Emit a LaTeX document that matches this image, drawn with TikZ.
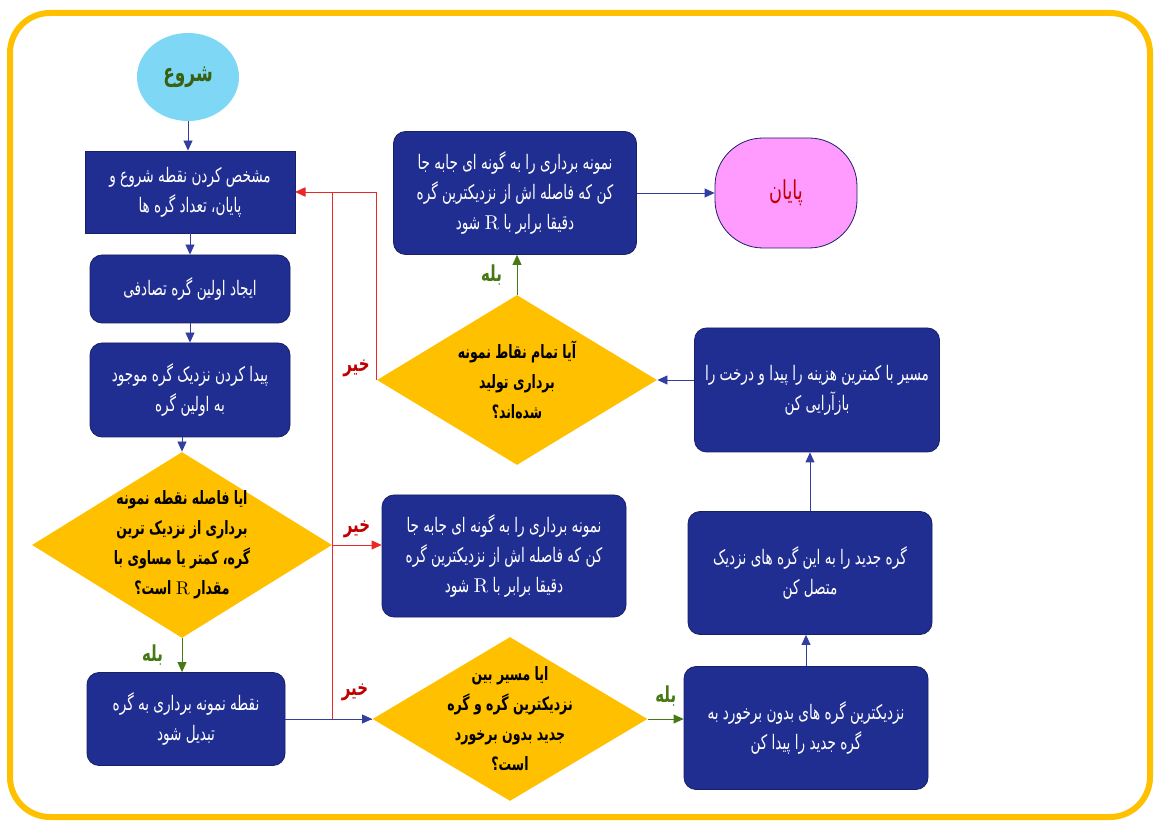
\documentclass[tikz,border=0pt]{standalone}
\usepackage{fontspec}
\usepackage{xcolor}
\usepackage{tikz}
\usetikzlibrary{shapes.geometric,arrows.meta}
\TeXXeTstate=1
\newfontfamily\fa[Script=Arabic,FakeStretch=0.68]{DejaVu Sans}
\definecolor{boxblue}{RGB}{32,45,145}
\definecolor{boxedge}{RGB}{25,32,100}
\definecolor{decyellow}{RGB}{255,192,0}
\definecolor{flowblue}{RGB}{50,62,160}
\definecolor{yesgreen}{RGB}{70,120,20}
\definecolor{nored}{RGB}{235,40,40}
\definecolor{nolabel}{RGB}{192,0,0}
\definecolor{startblue}{RGB}{125,215,245}
\definecolor{endpink}{RGB}{255,155,255}
\tikzset{
  procbox/.style={draw=boxedge,fill=boxblue,text=white,rounded corners=6pt,align=center,inner sep=2pt,font=\fa\fontsize{10}{15}\selectfont},
  decide/.style={diamond,fill=decyellow,inner sep=0pt},
  dectext/.style={text=black,align=center,font=\fa\bfseries\fontsize{9.2}{15}\selectfont},
  flow/.style={draw=flowblue,-{Triangle[length=5pt,width=4.5pt]}},
  yesflow/.style={draw=yesgreen,-{Triangle[length=5pt,width=4.5pt]}},
  noflow/.style={draw=nored,-{Triangle[length=5pt,width=4.5pt]}},
  yeslab/.style={text=yesgreen,font=\fa\bfseries\fontsize{11}{12}\selectfont},
  nolab/.style={text=nolabel,font=\fa\bfseries\fontsize{11}{12}\selectfont}
}

\begin{document}
\begin{tikzpicture}[x=0.5pt,y=-0.5pt]
  \useasboundingbox (0,0) rectangle (1157,823);
  \draw [decyellow,line width=3pt,rounded corners=20pt] (10,13) rectangle (1150,817);

  % left column
  \node [ellipse,fill=startblue,minimum width=51pt,minimum height=44pt,text=yesgreen!80!black,font=\fa\bfseries\fontsize{12.5}{13}\selectfont] (start) at (188,77) {\beginR شروع\endR};
  \node [procbox,rounded corners=0pt,minimum width=105pt,minimum height=41pt] (init) at (190,192) {\beginR مشخص کردن نقطه شروع و\endR\\\beginR پایان، تعداد گره ها\endR};
  \node [procbox,minimum width=100pt,minimum height=34pt] (first) at (190,289) {\beginR ایجاد اولین گره تصادفی\endR};
  \node [procbox,minimum width=100pt,minimum height=47pt] (near) at (190,390) {\beginR پیدا کردن نزدیک گره موجود\endR\\\beginR به اولین گره\endR};
  \node [decide,minimum width=150pt,minimum height=93pt,label={[dectext]center:{\beginR ایا فاصله نقطه نمونه\endR\\\beginR برداری از نزدیک ترین\endR\\\beginR گره، کمتر یا مساوی با\endR\\\beginR مقدار {\normalfont R} است؟\endR}}] (dist) at (182,545) {};
  \node [procbox,minimum width=99pt,minimum height=46.5pt] (conv) at (186,719) {\beginR نقطه نمونه برداری به گره\endR\\\beginR تبدیل شود\endR};

  % middle column
  \node [procbox,minimum width=121.5pt,minimum height=61.5pt] (moveA) at (515,193) {\beginR نمونه برداری را به گونه ای جابه جا\endR\\\beginR کن که فاصله اش از نزدیکترین گره\endR\\\beginR دقیقا برابر با {\normalfont R} شود\endR};
  \node [decide,minimum width=140pt,minimum height=85pt,label={[dectext]center:{\beginR آیا تمام نقاط نمونه\endR\\\beginR برداری تولید\endR\\\beginR شده‌اند؟\endR}}] (alldone) at (517,380) {};
  \node [procbox,minimum width=122pt,minimum height=61pt] (moveB) at (504,556) {\beginR نمونه برداری را به گونه ای جابه جا\endR\\\beginR کن که فاصله اش از نزدیکترین گره\endR\\\beginR دقیقا برابر با {\normalfont R} شود\endR};
  \node [decide,minimum width=137.5pt,minimum height=82pt,label={[dectext]center:{\beginR ایا مسیر بین\endR\\\beginR نزدیکترین گره و گره\endR\\\beginR جدید بدون برخورد\endR\\\beginR است؟\endR}}] (path) at (510,719) {};

  % right column
  \node [draw=boxedge,fill=endpink,rounded corners=24pt,minimum width=71pt,minimum height=55pt,text=nolabel,font=\fa\fontsize{13}{14}\selectfont] (stop) at (786,193) {\beginR پایان\endR};
  \node [procbox,minimum width=122.5pt,minimum height=62pt] (rewire) at (817,390) {\beginR مسیر با کمترین هزینه را پیدا و درخت را\endR\\\beginR بازآرایی کن\endR};
  \node [procbox,minimum width=122pt,minimum height=61.5pt] (connect) at (810,573) {\beginR گره جدید را به این گره های نزدیک\endR\\\beginR متصل کن\endR};
  \node [procbox,minimum width=122pt,minimum height=61.5pt] (findnb) at (806,728) {\beginR نزدیکترین گره های بدون برخورد به\endR\\\beginR گره جدید را پیدا کن\endR};

  % no branches
  \draw [noflow] (path.west) -- (332,719) |- (init.east);
  \draw [noflow] (alldone.west) |- (init.east) node [nolab,pos=0.03,left] {\beginR خیر\endR};
  \draw [noflow] (dist.east) -- (dist.east -| moveB.west) node [nolab,midway,above] {\beginR خیر\endR};
  \node [nolab] (nopath) at (355,692) {\beginR خیر\endR};

  % main flow
  \draw [flow] (start.south) -- (start.south |- init.north);
  \draw [flow] (init.south) -- (first.north);
  \draw [flow] (first.south) -- (near.north);
  \draw [flow] (near.south -| dist.north) -- (dist.north);
  \draw [yesflow] (dist.south) -- (dist.south |- conv.north) node [yeslab,midway,left=6pt] {\beginR بله\endR};
  \draw [flow] (conv.east) -- (path.west);
  \draw [yesflow] (path.east) -- (path.east -| findnb.west) node [yeslab,midway,above=3pt] {\beginR بله\endR};
  \draw [flow] (findnb.north) -- (findnb.north |- connect.south);
  \draw [flow] (connect.north) -- (connect.north |- rewire.south);
  \draw [flow] (rewire.west |- alldone.east) -- (alldone.east);
  \draw [yesflow] (alldone.north) -- (alldone.north |- moveA.south) node [yeslab,midway,left=4pt] {\beginR بله\endR};
  \draw [flow] (moveA.east) -- (moveA.east -| stop.west);
\end{tikzpicture}
\end{document}
